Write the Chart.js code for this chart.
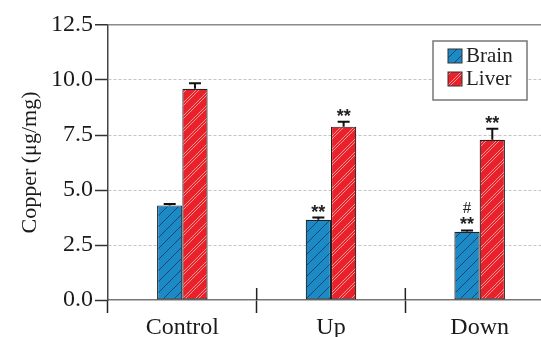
<!DOCTYPE html>
<html>
<head>
<meta charset="utf-8">
<script src="https://cdn.jsdelivr.net/npm/chart.js@4"></script>
<style>
  html, body { margin: 0; padding: 0; background: #fff; overflow: hidden; }
  #wrap { position: relative; width: 556px; height: 337px; }
</style>
</head>
<body>
<div id="wrap"><canvas id="c"></canvas></div>
<script>
// ---- data ----
const categories = ['Control', 'Up', 'Down'];
const seriesNames = ['Brain', 'Liver'];
const brainValues = [4.3, 3.65, 3.1];
const brainErrors = [0.06, 0.1, 0.06];
const liverValues = [9.6, 7.88, 7.28];
const liverErrors = [0.25, 0.22, 0.5];
const brainMarks = [[], ['**'], ['#', '**']];
const liverMarks = [[], ['**'], ['**']];
const yTicks = [0, 2.5, 5, 7.5, 10, 12.5];

// ---- hatch patterns ----
function makePattern(bg, line, size, offsets, lw) {
  const c = document.createElement('canvas');
  c.width = size; c.height = size;
  const g = c.getContext('2d');
  g.fillStyle = bg; g.fillRect(0, 0, size, size);
  g.strokeStyle = line; g.lineWidth = lw;
  offsets.forEach(o => {
    for (let k = -1; k <= 1; k++) {
      const s = k * size + o;
      g.beginPath();
      g.moveTo(s, size);
      g.lineTo(s + size, 0);
      g.stroke();
    }
  });
  return g.createPattern(c, 'repeat');
}
const brainFill = makePattern('#1b8ac6', '#17456b', 11, [0], 1);
const liverFill = makePattern('#e8212b', 'rgba(255,175,175,0.9)', 13, [0, 3], 0.9);

const serif = '"Liberation Serif", "DejaVu Serif", serif';

// ---- plugins ----
const errorPlugin = {
  id: 'errorBars',
  afterDatasetsDraw(chart) {
    const ctx = chart.ctx;
    const y = chart.scales.y;
    chart.data.datasets.forEach((ds, di) => {
      const meta = chart.getDatasetMeta(di);
      meta.data.forEach((bar, i) => {
        const top = y.getPixelForValue(ds.data[i] + ds.errors[i]);
        ctx.save();
        ctx.strokeStyle = '#111';
        ctx.lineWidth = 2;
        ctx.beginPath();
        ctx.moveTo(bar.x, bar.y);
        ctx.lineTo(bar.x, top);
        ctx.moveTo(bar.x - 6, top);
        ctx.lineTo(bar.x + 6, top);
        ctx.stroke();
        // significance marks (stacked upward from the error cap)
        const marks = ds.marks[i];
        ctx.fillStyle = '#222';
        ctx.textAlign = 'center';
        ctx.textBaseline = 'alphabetic';
        let cy = top - 10; // centre of the lowest mark
        for (let m = marks.length - 1; m >= 0; m--) {
          const t = marks[m];
          if (t === '#') {
            ctx.font = '17px ' + serif;
            ctx.fillText(t, bar.x, cy + 5);
            cy -= 13;
          } else {
            ctx.font = 'bold 18px "Liberation Sans", sans-serif';
            ctx.fillText(t, bar.x, cy + 10);
            cy -= 12;
          }
        }
        ctx.restore();
      });
    });
  }
};

const separatorPlugin = {
  id: 'separators',
  afterDraw(chart) {
    const ctx = chart.ctx;
    const x = chart.scales.x;
    const bottom = chart.chartArea.bottom;
    ctx.save();
    ctx.strokeStyle = '#222';
    ctx.lineWidth = 1.5;
    for (let i = 1; i < categories.length; i++) {
      const px = (x.getPixelForValue(i - 1) + x.getPixelForValue(i)) / 2;
      ctx.beginPath();
      ctx.moveTo(px, bottom);
      ctx.lineTo(px, bottom - 12);
      ctx.stroke();
    }
    ctx.restore();
  }
};

const legendPlugin = {
  id: 'boxLegend',
  afterDraw(chart) {
    const ctx = chart.ctx;
    const left = 433, top = 41, w = 94, h = 59;
    ctx.save();
    ctx.fillStyle = '#fff';
    ctx.fillRect(left, top, w, h);
    ctx.strokeStyle = '#777';
    ctx.lineWidth = 1.5;
    ctx.strokeRect(left, top, w, h);
    chart.data.datasets.forEach((ds, i) => {
      const sy = top + 8 + i * 23;
      ctx.fillStyle = ds.backgroundColor;
      ctx.fillRect(left + 15, sy, 14, 14);
      ctx.strokeStyle = '#333';
      ctx.lineWidth = 1;
      ctx.strokeRect(left + 15, sy, 14, 14);
      ctx.fillStyle = '#222';
      ctx.font = '21px ' + serif;
      ctx.textBaseline = 'middle';
      ctx.textAlign = 'left';
      ctx.fillText(ds.label, left + 33, sy + 7);
    });
    ctx.restore();
  }
};

new Chart(document.getElementById('c'), {
  type: 'bar',
  data: {
    labels: categories,
    datasets: [
      { label: seriesNames[0], data: brainValues, errors: brainErrors, marks: brainMarks,
        backgroundColor: brainFill, borderColor: '#222', borderWidth: 1.2, borderSkipped: false },
      { label: seriesNames[1], data: liverValues, errors: liverErrors, marks: liverMarks,
        backgroundColor: liverFill, borderColor: '#222', borderWidth: 1.2, borderSkipped: false }
    ]
  },
  options: {
    responsive: true,
    maintainAspectRatio: false,
    animation: false,
    datasets: { bar: { categoryPercentage: 0.34, barPercentage: 1.0 } },
    layout: { padding: { left: 0, right: 2, top: 25, bottom: 0 } },
    plugins: { legend: { display: false }, tooltip: { enabled: false } },
    scales: {
      x: {
        grid: { offset: true, drawOnChartArea: false, tickLength: 13, tickColor: '#222', tickWidth: 1.5 },
        border: { color: '#777', width: 1.5 },
        ticks: { color: '#1a1a1a', padding: 0, font: { family: serif, size: 24 } },
        afterFit(s) { s.height = 37; }
      },
      y: {
        min: 0, max: 12.5,
        afterBuildTicks(s) { s.ticks = yTicks.map(v => ({ value: v })); },
        ticks: { color: '#1a1a1a', padding: 2, font: { family: serif, size: 24 },
                 callback: v => Number(v).toFixed(1) },
        grid: {
          tickLength: 13, tickColor: '#333', tickWidth: 1.5,
          color: c => c.tick && c.tick.value === 12.5 ? '#8a8a8a' : (c.tick && c.tick.value === 0 ? 'rgba(0,0,0,0)' : '#c4c4c4'),
          lineWidth: c => c.tick && c.tick.value === 12.5 ? 1.5 : 1
        },
        border: { color: '#444', width: 1.5,
                  dash: c => c.tick && c.tick.value === 12.5 ? [] : [3, 2] },
        title: { display: true, text: 'Copper (μg/mg)', color: '#1a1a1a',
                 font: { family: serif, size: 22 }, padding: { top: 17, bottom: 0 } },
        afterFit(s) { s.width = 108; }
      }
    }
  },
  plugins: [errorPlugin, separatorPlugin, legendPlugin]
});
</script>
</body>
</html>
